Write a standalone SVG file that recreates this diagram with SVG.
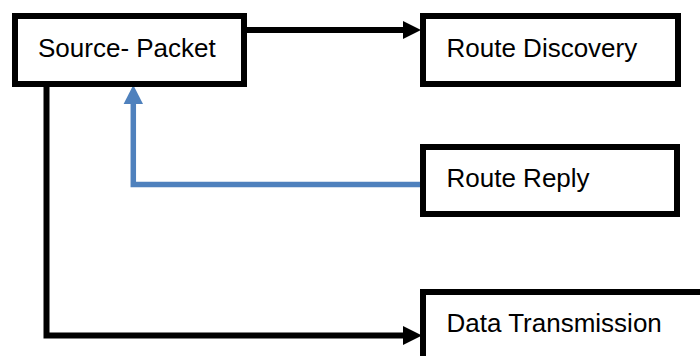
<svg xmlns="http://www.w3.org/2000/svg" width="700" height="356" viewBox="0 0 700 356">
<defs>
<style>
.box{fill:#fff;stroke:#000;stroke-width:6}
.lbl{font-family:"Liberation Sans",Arial,sans-serif;font-size:26px;fill:#000}
.blk{fill:none;stroke:#000;stroke-width:6;stroke-linejoin:miter}
.blu{fill:none;stroke:#4F81BD;stroke-width:5.5;stroke-linejoin:miter}
</style>
</defs>
<rect width="700" height="356" fill="#fff"/>
<g id="connectors">
<path class="blk" d="M247 30 H404"/>
<polygon points="403,21 421,30 403,39" fill="#000"/>
<path class="blk" d="M46.5 87 V335.5 H404"/>
<polygon points="403,326 422,335.5 403,345" fill="#000"/>
<path class="blu" d="M420 184.5 H133.3 V103"/>
<polygon points="123.6,104 133.3,85 143,104" fill="#4F81BD"/>
</g>
<g id="source-packet">
<rect class="box" x="15" y="16" width="229" height="68"/>
<text class="lbl" x="38" y="57">Source- Packet</text>
</g>
<g id="route-discovery">
<rect class="box" x="423" y="16" width="255" height="68"/>
<text class="lbl" x="446.5" y="57">Route Discovery</text>
</g>
<g id="route-reply">
<rect class="box" x="423" y="147" width="254" height="67"/>
<text class="lbl" x="446.5" y="187">Route Reply</text>
</g>
<g id="data-transmission">
<rect class="box" x="423" y="292" width="300" height="100"/>
<text class="lbl" x="446.5" y="332">Data Transmission</text>
</g>
</svg>
